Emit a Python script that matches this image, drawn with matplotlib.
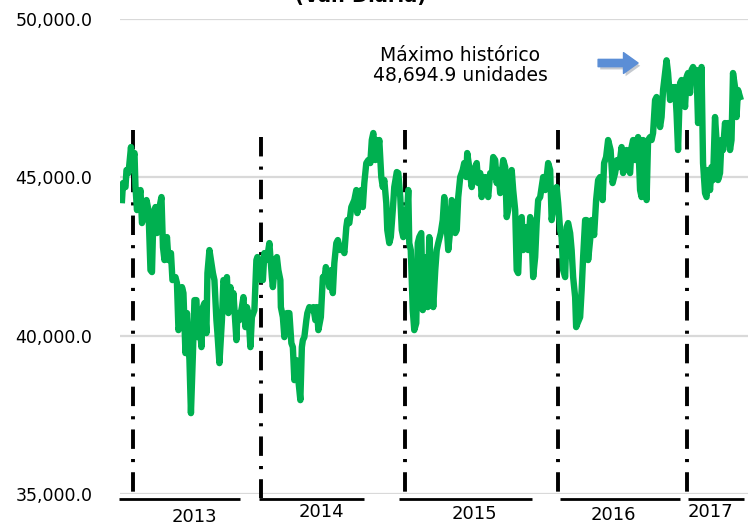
import matplotlib
matplotlib.use("Agg")
import matplotlib.pyplot as plt
import matplotlib.patheffects as pe
from matplotlib.transforms import blended_transform_factory

# ---------------- data ----------------
sesion = [0, 2, 7, 9, 13, 18, 20, 25, 27, 30, 33, 37, 40, 43, 49, 53, 57, 60, 63, 67,
          70, 75, 79, 82, 85, 90, 93, 98, 101, 107, 110, 113, 118, 120, 123, 127, 130, 135, 138, 142,
          145, 149, 151, 155, 159, 162, 165, 169, 171, 175, 178, 182, 185, 189, 191, 195, 200, 203, 207, 210,
          213, 217, 220, 223, 229, 231, 235, 240, 243, 247, 250, 253, 257, 260, 265, 269, 271, 275, 278, 282,
          285, 289, 292, 295, 300, 302, 307, 310, 313, 317, 318, 322, 325, 327, 330, 335, 339, 342, 345, 349,
          353, 357, 360, 362, 365, 369, 371, 375, 380, 383, 387, 390, 393, 398, 402, 405, 408, 411, 415, 419,
          422, 425, 429, 432, 437, 442, 445, 449, 451, 455, 459, 465, 469, 471, 475, 479, 482, 485, 489, 493,
          497, 500, 503, 507, 510, 513, 515, 519, 522, 525, 529, 531, 535, 538, 542, 545, 550, 553, 557, 560,
          563, 567, 570, 573, 575, 578, 582, 585, 589, 592, 595, 599, 602, 605, 609, 612, 615, 619, 623, 627,
          630, 633, 638, 642, 645, 647, 650, 653, 657, 660, 663, 667, 670, 673, 677, 682, 685, 689, 691, 695,
          700, 703, 707, 710, 713, 717, 720, 723, 727, 730, 733, 737, 740, 743, 747, 750, 753, 757, 760, 763,
          767, 770, 773, 777, 780, 783, 787, 790, 793, 797, 800, 803, 807, 810, 813, 817, 820, 823, 827, 830,
          833, 837, 840, 843, 847, 850, 853, 857, 860, 863, 867, 870, 873, 877, 880, 883, 887, 890, 893, 897,
          900, 903, 907, 909, 912, 917, 920, 923, 927, 930, 933, 937, 940, 945, 949, 953, 957, 962, 965, 969,
          973, 978, 982, 987, 991, 995, 1000, 1003, 1007, 1010, 1013, 1017, 1020, 1023, 1027, 1030, 1033, 1037, 1040, 1043,
          1047, 1050, 1053, 1057, 1060, 1063, 1067, 1070, 1073, 1077, 1080, 1083, 1087, 1090, 1093, 1097, 1100, 1103, 1107, 1110,
          1113, 1117, 1120, 1123, 1127, 1130, 1133, 1137, 1140, 1143, 1147, 1150, 1153, 1157, 1160, 1163, 1167, 1170, 1173, 1177,
          1180, 1183, 1187, 1190, 1193, 1197, 1200, 1203, 1207, 1210, 1213, 1217, 1220, 1223, 1227, 1230, 1233, 1237]

ipc = [44282, 44819, 44693, 45230, 45135, 45956, 45451, 45767, 44693, 43966, 44282, 44598, 43556, 43745, 44282, 43966, 42071, 42008, 43871, 44061,
       43240, 44061, 44377, 42797, 42387, 43113, 42387, 42608, 41755, 41850, 41660, 40175, 40491, 41534, 41344, 39449, 40713, 39228, 37553, 39449,
       41123, 41123, 39954, 40491, 39638, 40902, 41028, 40081, 41976, 42703, 42387, 41976, 41755, 40491, 40081, 39133, 40491, 41755, 41534, 41850,
       40713, 41534, 40902, 41344, 39859, 40713, 40491, 40902, 41218, 40270, 40902, 40713, 39638, 40586, 40807, 42387, 42482, 42387, 41755, 41755,
       42608, 42387, 42608, 42924, 41850, 41534, 42387, 42482, 42071, 41755, 40902, 40586, 39954, 40491, 40713, 40713, 39765, 39638, 38596, 39228,
       38596, 37964, 39638, 39859, 39954, 40491, 40713, 40902, 40807, 40902, 40491, 40902, 40175, 40586, 41850, 41755, 42166, 41976, 41534, 42071,
       41344, 42292, 42924, 43019, 42703, 42797, 42608, 43429, 43650, 43556, 44061, 44282, 44598, 43871, 44503, 44598, 44061, 44819, 45451, 45546,
       45451, 46178, 46399, 45546, 46178, 45956, 46178, 45009, 44693, 44914, 44187, 43335, 42924, 43113, 43966, 44693, 45167, 45135, 44377, 43335,
       43113, 43966, 43650, 44598, 42924, 42703, 40807, 40175, 40397, 42924, 43113, 43240, 40807, 41218, 42482, 40902, 43113, 42071, 40902, 42071,
       42703, 42924, 43240, 43650, 44377, 43966, 43429, 42703, 43335, 44282, 44187, 43240, 43335, 44377, 45009, 45230, 45451, 45009, 45767, 45325,
       44693, 45009, 45325, 45451, 44819, 45135, 44377, 44819, 45009, 44598, 44377, 45135, 45009, 45641, 45546, 44819, 45230, 44503, 45135, 45546,
       45325, 43745, 43966, 45009, 45230, 44598, 43966, 42071, 41976, 43650, 43745, 42703, 42924, 43429, 42703, 43745, 43113, 41850, 42482, 43556,
       44282, 44377, 44693, 45009, 44598, 45009, 45451, 45230, 43650, 43966, 44377, 44693, 44187, 43335, 43113, 42071, 41850, 43429, 43556, 43240,
       42703, 41850, 41218, 40270, 40397, 40586, 41439, 42482, 43650, 43650, 42387, 43019, 43650, 43177, 44282, 44914, 45009, 44282, 45451, 45641,
       46178, 45862, 44819, 45135, 45546, 45325, 45956, 45135, 45641, 45862, 45325, 45135, 45956, 46178, 45546, 45956, 46272, 44598, 44377, 46178,
       45451, 44282, 46178, 46272, 46178, 46399, 47441, 47536, 47125, 46588, 46904, 47757, 48294, 48694.9, 48294, 47441, 47852, 47536, 47852, 47031,
       45862, 47978, 48073, 47978, 47220, 48168, 48294, 47662, 48389, 48484, 48294, 48389, 46715, 47220, 48484, 45451, 44503, 44377, 45230, 44598,
       45325, 44914, 46904, 46178, 44914, 45135, 46178, 45862, 46715, 46272, 46715, 45862, 46178, 48294, 47852, 46904, 47757, 47536]

anios = ["2013", "2014", "2015", "2016", "2017"]
inicio_anio = [23, 279, 567, 873, 1131]          # session where each year starts
maximo = 48694.9
yticks = [35000, 40000, 45000, 50000]

# ---------------- layout ----------------
bracket_spans = [(-7, 237), (275, 485), (555, 821), (877, 1117), (1133, 1245)]
label_x = [145, 399, 706, 984, 1177]
label_y = [-0.049, -0.038, -0.042, -0.044, -0.038]
vline_top = [0.766, 0.752, 0.766, 0.766, 0.766]

GREEN = "#00B050"
plt.rcParams['font.family'] = ['DejaVu Sans']

fig = plt.figure(figsize=(7.48, 5.25), dpi=100)
ax = fig.add_axes([120 / 748, 31 / 525, 628 / 748, 475 / 525])
ax.set_xlim(-4, 1253)
ax.set_ylim(35000, 50000)

for s in ax.spines.values():
    s.set_visible(False)
ax.set_yticks(yticks)
ax.set_yticklabels([f"{v:,.1f}" for v in yticks], fontsize=12.5)
ax.tick_params(axis='y', length=0, pad=20)
ax.set_xticks([])
ax.grid(axis='y', color='#D9D9D9', linewidth=1.6)
ax.set_axisbelow(True)

trans = blended_transform_factory(ax.transData, ax.transAxes)

# year separators
for x0, top in zip(inicio_anio, vline_top):
    ax.plot([x0, x0], [top, -0.008], transform=trans, color='black', lw=2.8,
            linestyle=(0, (5, 2.6, 0.8, 2.6)), clip_on=False, zorder=3)

# brackets and year labels
for (a, b), lx, ly, name in zip(bracket_spans, label_x, label_y, anios):
    ax.plot([a, b], [-0.011, -0.011], transform=trans, color='black', lw=2.0,
            clip_on=False, solid_capstyle='butt')
    ax.text(lx, ly, name, transform=trans, ha='center', va='center', fontsize=13)

# series
ax.plot(sesion, ipc, color=GREEN, lw=4.6, solid_joinstyle='round', zorder=4)

# annotation
ax.text(677, 48520, f"Máximo histórico\n{maximo:,.1f} unidades", ha='center', va='center',
        fontsize=13.5, linespacing=1.05)
arr = ax.annotate("", xy=(1033, 48610), xytext=(953, 48610),
                  arrowprops=dict(arrowstyle="simple,head_length=0.7,head_width=1.0,tail_width=0.35",
                                  color="#5B8ED6", mutation_scale=15, shrinkA=0, shrinkB=0))
arr.arrow_patch.set_path_effects([pe.SimplePatchShadow(offset=(1.5, -2), alpha=0.25), pe.Normal()])

# clipped title
fig.text(361 / 748, 1.0 - 2 / 525, "(Var. Diaria)", ha='center', va='baseline', fontsize=14, fontweight='bold')

fig.savefig("out.png", dpi=100)
